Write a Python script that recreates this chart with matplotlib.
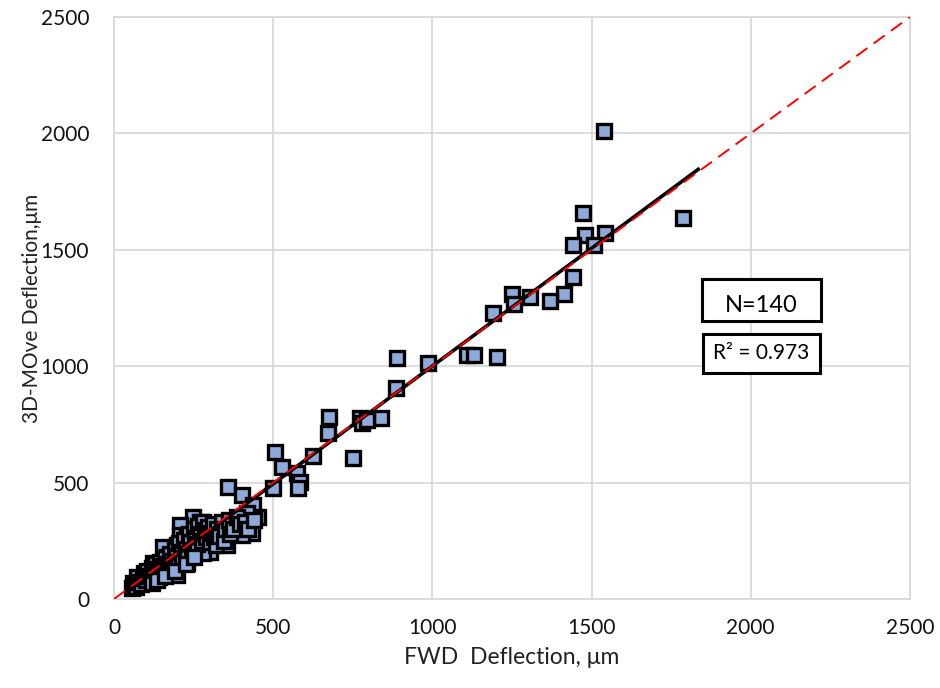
import matplotlib.pyplot as plt
from matplotlib.patches import Rectangle
import numpy as np

plt.rcParams['font.family'] = ['Lato', 'DejaVu Sans']

# FWD deflection (x) vs 3D-Move deflection (y), um
fwd = [1540, 1473, 1787, 1479, 1542, 1441, 1508, 1441, 1413, 1369,
       1307, 1250, 1256, 1190, 1109, 1130, 1203, 986, 889, 886,
       839, 773, 779, 795, 675, 672, 625, 751, 506, 528,
       575, 584, 578, 499,
       358, 402, 437, 452, 418, 433, 402, 355, 374, 302,
       317, 248, 270, 207, 207, 198, 264, 261, 229, 154,
       166, 182, 122, 144, 113, 104, 72, 82, 60, 229,
       198, 270, 308, 229, 280, 333,
       55, 62, 70, 78, 85, 90, 95, 100, 105, 110,
       118, 125, 130, 135, 140, 145, 150, 155, 160, 165,
       170, 175, 180, 185, 190, 195, 200, 205, 210, 215,
       220, 225, 230, 235, 240, 245, 250, 255, 260, 265,
       270, 275, 280, 285, 290, 295, 300, 305, 310, 315,
       320, 325, 330, 340, 345, 350, 360, 365, 375, 385,
       395, 410, 420, 440, 120, 135, 160, 190, 225, 250]
move = [2010, 1660, 1637, 1564, 1570, 1521, 1521, 1383, 1312, 1280,
        1297, 1310, 1267, 1228, 1048, 1048, 1040, 1012, 1036, 906,
        777, 777, 756, 769, 782, 712, 615, 604, 631, 567,
        541, 503, 477, 477,
        481, 447, 404, 352, 369, 284, 275, 232, 326, 202,
        296, 352, 331, 318, 275, 232, 275, 223, 180, 223,
        180, 137, 155, 112, 112, 90, 95, 69, 69, 155,
        103, 232, 241, 266, 198, 309,
        45, 58, 52, 75, 66, 88, 110, 80, 120, 98,
        135, 105, 150, 128, 95, 160, 140, 118, 175, 150,
        130, 195, 165, 145, 210, 185, 160, 240, 200, 175,
        255, 215, 195, 280, 245, 210, 300, 260, 235, 315,
        280, 250, 330, 295, 265, 310, 245, 285, 320, 265,
        230, 300, 270, 330, 250, 300, 340, 280, 300, 350,
        320, 330, 300, 340, 70, 80, 100, 120, 150, 180]

# linear trendline (as shown in the chart) and its span
fit_slope = 1.012
fit_intercept = -11.5
fit_x = [40, 1835]

ticks = [0, 500, 1000, 1500, 2000, 2500]

fig = plt.figure(figsize=(9.4, 6.88), dpi=100)
ax = fig.add_axes([0.1213, 0.1294, 0.8467, 0.8459])

ax.plot(fwd, move, 's', ms=10, mfc='#8eaadb', mec='black', mew=2.4,
        zorder=3)

fx = np.array(fit_x)
ax.plot(fx, fit_slope * fx + fit_intercept, color='black', lw=2.6,
        zorder=4)
ax.plot([0, 2500], [0, 2500], color='#ff0000', lw=1.4,
        dashes=(7, 4), zorder=5)

ax.set_xlim(0, 2500)
ax.set_ylim(0, 2500)
ax.set_xticks(ticks)
ax.set_yticks(ticks)
ax.grid(True, color='#d9d9d9', lw=1.3)
ax.set_axisbelow(True)
for s in ax.spines.values():
    s.set_color('#d9d9d9')
    s.set_linewidth(1.3)
ax.tick_params(length=0, labelsize=15, colors='#111111')
ax.tick_params(axis='x', pad=14)
ax.tick_params(axis='y', pad=18)

ax.set_xlabel('FWD  Deflection, \u03bcm', fontsize=16.5, color='#222222',
              labelpad=6)
ax.set_ylabel('3D-MOve Deflection,\u03bcm', fontsize=15, color='#222222',
              labelpad=-1)

# annotation boxes
ax.add_patch(Rectangle((1847, 1194), 373, 181, fill=True, fc='white',
                       ec='black', lw=2.2, zorder=6, clip_on=False))
ax.text(2034, 1262, 'N=140', ha='center', va='center', fontsize=17,
        zorder=7)
ax.add_patch(Rectangle((1850, 971), 367, 167, fill=True, fc='white',
                       ec='black', lw=2.2, zorder=6, clip_on=False))
ax.text(2034, 1055, 'R\u00b2 = 0.973', ha='center', va='center',
        fontsize=15, zorder=7)

plt.savefig('out.png', dpi=100)
